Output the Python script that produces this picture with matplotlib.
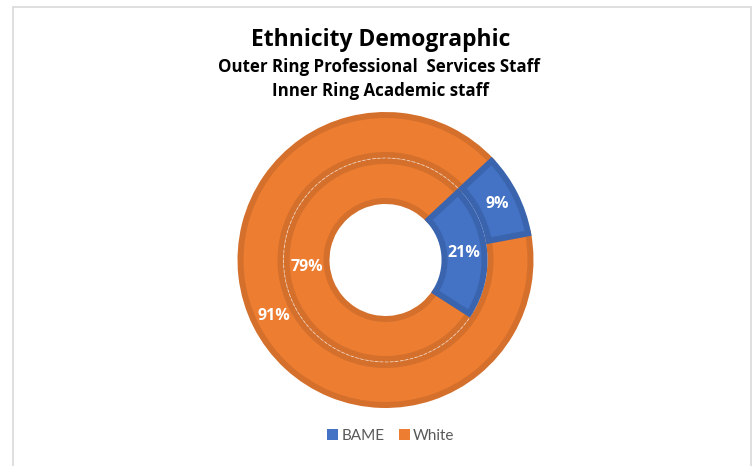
import matplotlib
matplotlib.use("Agg")
import matplotlib.pyplot as plt
from matplotlib.patches import Patch, Rectangle, Arc

# data
categories = ["BAME", "White"]
professional_pct = [9, 91]   # outer ring
academic_pct = [21, 79]      # inner ring

fill_colors = ["#4472C4", "#ED7D31"]
edge_colors = ["#3A64AE", "#D4702C"]

plt.rcParams["font.family"] = ["Open Sans", "DejaVu Sans"]

W, H = 755, 466
fig = plt.figure(figsize=(W / 100, H / 100), dpi=100)
ax = fig.add_axes([0, 0, 1, 1])

# pixel style coordinates, y going up
cx, cy = 385.5, H - 260
r_outer, r_mid, r_hole = 148, 102, 56
lw_px = 6  # border drawn inside each ring
start = 43


def ring(values, r_out, r_in, explode):
    """draw one doughnut ring with the border kept inside its band"""
    radius = r_out - lw_px / 2
    width = (r_out - r_in) - lw_px
    mid = (r_out + r_in) / 2
    wedges, texts, autotexts = ax.pie(
        values,
        center=(cx, cy),
        radius=radius,
        startangle=start,
        counterclock=False,
        explode=explode,
        colors=fill_colors,
        autopct="%d%%",
        pctdistance=mid / radius,
        wedgeprops=dict(width=width, linewidth=lw_px * 0.72),
        textprops=dict(color="white", fontsize=11.5, fontweight="bold", zorder=6),
        frame=False,
    )
    for w, ec in zip(wedges, edge_colors):
        w.set_edgecolor(ec)
    # exploded BAME slice sits on top of the white one
    wedges[0].set_zorder(4)
    return wedges


ring(professional_pct, r_outer, r_mid, [0.025, 0])
ring(academic_pct, r_mid, r_hole, [0.04, 0])

# faint line between the two rings, only along the orange part
bame_end = start - academic_pct[0] * 3.6
ax.add_patch(Arc((cx, cy), 2 * r_mid, 2 * r_mid, theta1=start + 2, theta2=360 + bame_end - 2,
                 edgecolor="white", linewidth=0.6, linestyle=(0, (4, 2)), alpha=0.6, zorder=3))

ax.set_xlim(0, W)
ax.set_ylim(0, H)
ax.set_aspect("equal")
ax.axis("off")

# chart frame
ax.add_patch(Rectangle((12.5, -5), 738, H - 6.5 + 5, fill=False,
                       edgecolor="#D9D9D9", linewidth=1.2, clip_on=False))

# titles
ax.text(381, H - 40.5, "Ethnicity Demographic", ha="center", va="center",
        fontsize=16.5, fontweight="bold", color="black")
ax.text(379, H - 66.5, "Outer Ring Professional  Services Staff", ha="center",
        va="center", fontsize=12.2, fontweight="bold", color="black")
ax.text(380, H - 91.5, "Inner Ring Academic staff", ha="center",
        va="center", fontsize=12.2, fontweight="bold", color="black")

# legend
handles = [Patch(facecolor=c, edgecolor="none") for c in fill_colors]
leg = ax.legend(handles, categories, loc="center", bbox_to_anchor=(391 / W, 1 - 436 / H),
                ncol=2, frameon=False, fontsize=11, handlelength=0.7, handleheight=0.7,
                handletextpad=0.2, columnspacing=1.0)
for t in leg.get_texts():
    t.set_color("#595959")
    t.set_family(["Lato", "DejaVu Sans"])

fig.savefig("out.png", dpi=100)
